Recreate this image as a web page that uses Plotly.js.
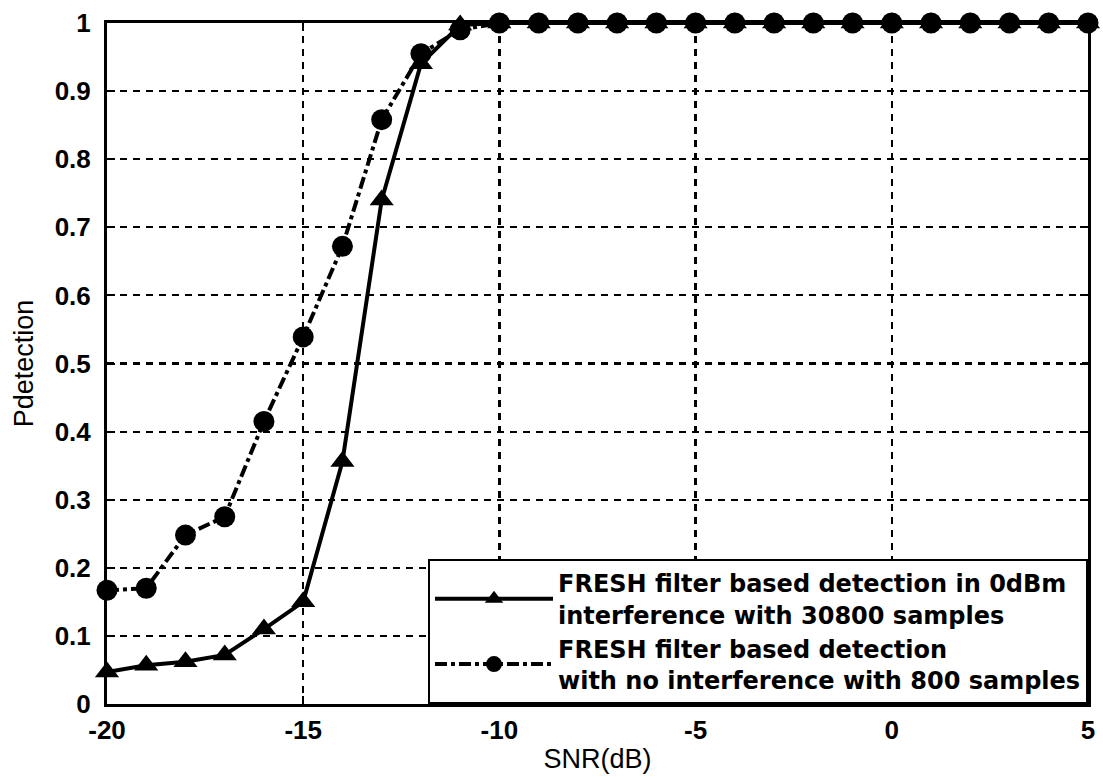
<!DOCTYPE html>
<html>
<head>
<meta charset="utf-8">
<script src="https://cdn.plot.ly/plotly-3.0.1.min.js"></script>
<style>html,body{margin:0;padding:0;background:#fff;}#chart{width:1103px;height:777px;}</style>
</head>
<body>
<div id="chart"></div>
<script>
const snr = [-20,-19,-18,-17,-16,-15,-14,-13,-12,-11,-10,-9,-8,-7,-6,-5,-4,-3,-2,-1,0,1,2,3,4,5];
const pdInterf = [0.047,0.057,0.062,0.072,0.11,0.15,0.356,0.74,0.94,0.997,1,1,1,1,1,1,1,1,1,1,1,1,1,1,1,1];
const pdNoInterf = [0.167,0.17,0.248,0.275,0.415,0.539,0.672,0.858,0.955,0.99,1,1,1,1,1,1,1,1,1,1,1,1,1,1,1,1];
const xTicks = [-20,-15,-10,-5,0,5];
const yTicks = [0,0.1,0.2,0.3,0.4,0.5,0.6,0.7,0.8,0.9,1];
const yTickText = ["0","0.1","0.2","0.3","0.4","0.5","0.6","0.7","0.8","0.9","1"];
const name1 = "FRESH filter based detection in 0dBm<br>interference with 30800 samples";
const name2 = "FRESH filter based detection<br>with no interference with 800 samples";

const FONT = "Liberation Sans, Arial, sans-serif";

const traces = [
  {x: snr, y: pdInterf, name: name1, mode: "lines+markers", cliponaxis: false,
   line: {color: "#000", width: 4, dash: "solid"},
   marker: {symbol: "triangle-up", size: 21, color: "#000"}},
  {x: snr, y: pdNoInterf, name: name2, mode: "lines+markers", cliponaxis: false,
   line: {color: "#000", width: 4, dash: "dashdot"},
   marker: {symbol: "circle", size: 21, color: "#000"}}
];

const axisCommon = {
  showline: true, linecolor: "#000", linewidth: 3, mirror: "ticks",
  ticks: "inside", ticklen: 8, tickcolor: "#000", tickwidth: 2,
  showgrid: true, gridcolor: "#000", gridwidth: 2.2, griddash: "7px,6px",
  zeroline: false, automargin: false,
  tickfont: {family: FONT, size: 26, color: "#000", weight: "bold"}
};

const layout = {
  width: 1103, height: 777,
  margin: {l: 107, r: 15, t: 23, b: 73},
  paper_bgcolor: "#fff", plot_bgcolor: "#fff",
  showlegend: true,
  xaxis: Object.assign({}, axisCommon, {
    range: [-20, 5], tickvals: xTicks, ticktext: xTicks.map(String),
    ticklabelstandoff: 1,
    title: {text: "SNR(dB)", font: {family: FONT, size: 27, color: "#000"}, standoff: 5}
  }),
  yaxis: Object.assign({}, axisCommon, {
    range: [0, 1], tickvals: yTicks, ticktext: yTickText,
    ticklabelstandoff: 8,
    title: {text: "Pdetection", font: {family: FONT, size: 27, color: "#000"}, standoff: 14}
  }),
  legend: {
    x: 1, y: 0, xanchor: "right", yanchor: "bottom",
    bgcolor: "#fff", bordercolor: "#000", borderwidth: 2,
    font: {family: "DejaVu Sans, sans-serif", size: 24, color: "#000", weight: "bold"},
    tracegroupgap: 2, itemwidth: 118
  }
};

Plotly.newPlot("chart", traces, layout, {displayModeBar: false, staticPlot: true});
</script>
</body>
</html>
